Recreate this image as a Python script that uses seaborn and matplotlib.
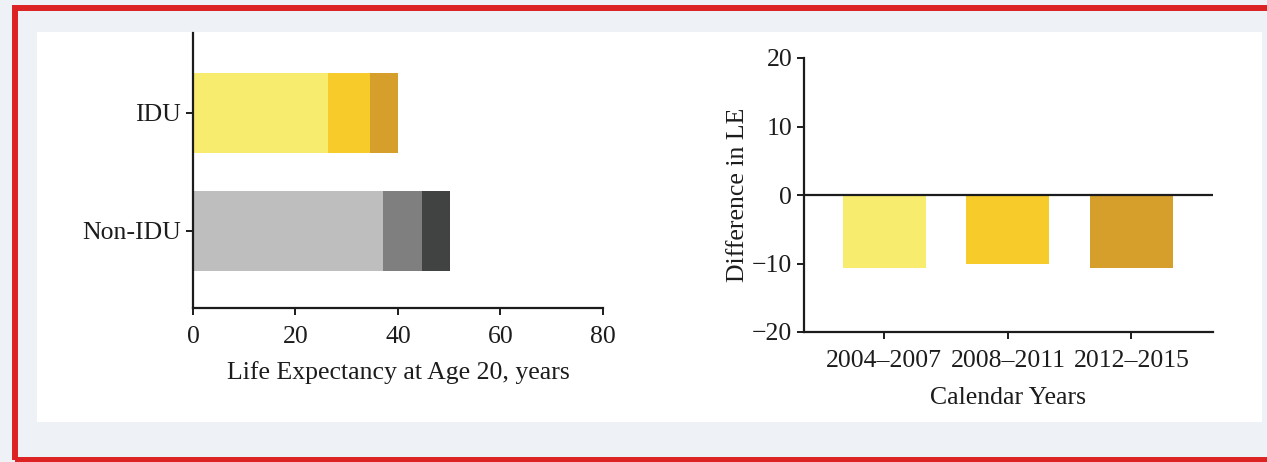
import numpy as np
import pandas as pd
import matplotlib
matplotlib.use("Agg")
import matplotlib.pyplot as plt
from matplotlib.patches import Rectangle
import seaborn as sns

# left panel: life expectancy at age 20, stacked segments
groups = ["IDU", "Non-IDU"]
idu_parts = [26.3, 8.2, 5.5]
nonidu_parts = [37.1, 7.6, 5.4]
idu_colors = ["#f7ec6e", "#f7cb2a", "#d69e2a"]
nonidu_colors = ["#bebebe", "#7f7f7f", "#414342"]

# right panel: difference in LE by calendar period
periods = ["2004–2007", "2008–2011", "2012–2015"]
le_diff = [-10.6, -10.1, -10.6]
period_colors = ["#f7ec6e", "#f7cb2a", "#d69e2a"]

W, H = 1267, 462
TXT = "#1c1c1c"
FS = 18.5

sns.set_theme(style="white")
plt.rcParams["font.family"] = ["Liberation Serif", "DejaVu Serif"]
plt.rcParams["font.size"] = FS
plt.rcParams["text.color"] = TXT
plt.rcParams["axes.labelcolor"] = TXT
plt.rcParams["xtick.color"] = TXT
plt.rcParams["ytick.color"] = TXT


def fx(px):
    return px / W


def fy(py):
    return 1 - py / H


fig = plt.figure(figsize=(W / 100, H / 100), dpi=100)
fig.patch.set_facecolor("#eef1f6")

# white panel and red frame
fig.add_artist(Rectangle((fx(37), fy(422)), fx(1262) - fx(37), fy(32) - fy(422),
                         transform=fig.transFigure, facecolor="white", edgecolor="none", zorder=0))
fig.add_artist(Rectangle((fx(14.5), fy(459.5)), fx(1285) - fx(14.5), fy(8) - fy(459.5),
                         transform=fig.transFigure, facecolor="none", edgecolor="#dc2222",
                         linewidth=4.3, zorder=0.5, clip_on=False))

ax1 = fig.add_axes([fx(193), fy(308), fx(603) - fx(193), fy(33) - fy(308)])
ax2 = fig.add_axes([fx(804), fy(332), fx(1213) - fx(804), fy(58) - fy(332)])

cum_idu = np.cumsum(idu_parts)
cum_non = np.cumsum(nonidu_parts)
for k in reversed(range(3)):
    df = pd.DataFrame({"group": groups, "value": [cum_idu[k], cum_non[k]]})
    sns.barplot(data=df, x="value", y="group", hue="group", order=groups,
                palette={"IDU": idu_colors[k], "Non-IDU": nonidu_colors[k]},
                width=0.68, saturation=1, legend=False, linewidth=0, ax=ax1)

ax1.set_xlim(0, 80)
ax1.set_xticks([0, 20, 40, 60, 80])
ax1.set_ylim(1.653, -0.678)
ax1.set_xlabel("Life Expectancy at Age 20, years", fontsize=FS, labelpad=9)
ax1.set_ylabel("")

dfr = pd.DataFrame({"period": periods, "diff": le_diff})
sns.barplot(data=dfr, x="period", y="diff", hue="period", order=periods,
            palette=dict(zip(periods, period_colors)), width=0.67, saturation=1,
            legend=False, linewidth=0, ax=ax2)
ax2.set_ylim(-20, 20)
ax2.set_yticks([-20, -10, 0, 10, 20])
ax2.set_xlim(-0.65, 2.66)
ax2.axhline(0, color=TXT, linewidth=1.6, zorder=5)
ax2.set_xlabel("Calendar Years", fontsize=FS, labelpad=11)
ax2.set_ylabel("Difference in LE", fontsize=FS, labelpad=2)

for ax in (ax1, ax2):
    ax.set_facecolor("none")
    for side in ("top", "right"):
        ax.spines[side].set_visible(False)
    for side in ("left", "bottom"):
        ax.spines[side].set_color(TXT)
        ax.spines[side].set_linewidth(1.6)
    ax.tick_params(axis="both", which="major", direction="out", length=5,
                   width=1.4, labelsize=FS, colors=TXT, bottom=True, left=True)
    ax.tick_params(axis="x", pad=8)
    ax.tick_params(axis="y", pad=3.5)

fig.savefig("out.png", dpi=100, facecolor=fig.get_facecolor())
